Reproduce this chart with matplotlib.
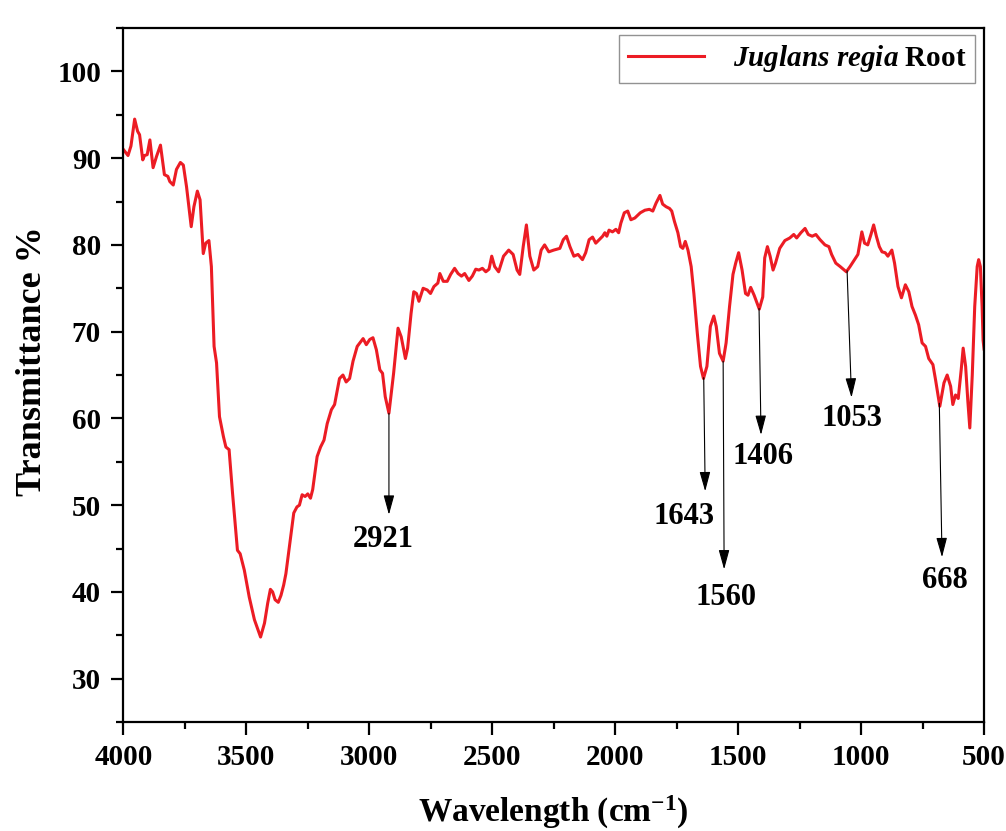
import numpy as np
import matplotlib
matplotlib.use("Agg")
import matplotlib.pyplot as plt
from matplotlib.ticker import MultipleLocator

# FTIR spectrum (wavenumber cm-1, transmittance %)
wavenumber = [
    4000, 3981, 3969, 3954, 3942, 3934, 3921, 3914, 3903, 3892, 3879, 3865, 3849,
    3833, 3819, 3811, 3797, 3784, 3768, 3756, 3743, 3724, 3713, 3699, 3688, 3675,
    3665, 3652, 3642, 3631, 3621, 3609, 3593, 3583, 3570, 3556, 3536, 3525, 3508,
    3488, 3467, 3442, 3426, 3413, 3402, 3393, 3383, 3370, 3359, 3348, 3339, 3325,
    3307, 3294, 3284, 3273, 3261, 3250, 3239, 3230, 3212, 3198, 3184, 3171, 3154,
    3141, 3121, 3107, 3094, 3080, 3066, 3049, 3025, 3012, 2998, 2985, 2971, 2957,
    2946, 2935, 2920, 2901, 2883, 2870, 2853, 2844, 2830, 2819, 2808, 2798, 2781,
    2764, 2751, 2737, 2721, 2713, 2699, 2683, 2669, 2653, 2639, 2625, 2612, 2595,
    2581, 2567, 2554, 2540, 2526, 2513, 2502, 2490, 2474, 2454, 2433, 2415, 2399,
    2388, 2374, 2361, 2347, 2331, 2315, 2301, 2287, 2270, 2250, 2225, 2211, 2198,
    2184, 2168, 2151, 2133, 2120, 2106, 2092, 2079, 2065, 2051, 2042, 2034, 2025,
    2011, 1997, 1986, 1977, 1963, 1949, 1936, 1920, 1898, 1879, 1861, 1847, 1834,
    1818, 1807, 1793, 1779, 1770, 1759, 1745, 1734, 1725, 1715, 1704, 1691, 1680,
    1666, 1653, 1641, 1627, 1613, 1599, 1589, 1576, 1561, 1549, 1535, 1521, 1510,
    1498, 1484, 1470, 1460, 1449, 1435, 1414, 1400, 1392, 1381, 1370, 1358, 1348,
    1331, 1310, 1290, 1274, 1262, 1245, 1228, 1215, 1199, 1184, 1167, 1147, 1131,
    1120, 1103, 1085, 1060, 1045, 1027, 1013, 997, 986, 973, 960, 949, 938, 926,
    915, 902, 891, 875, 864, 850, 836, 820, 806, 793, 779, 766, 752, 738, 725,
    708, 697, 680, 663, 650, 636, 627, 616, 605, 593, 585, 575, 566, 558, 548,
    538, 528, 522, 515, 508, 504, 500,
]
transmittance = [
    91.0, 90.3, 91.4, 94.5, 93.1, 92.7, 89.8, 90.3, 90.4, 92.1, 88.9, 90.2, 91.5,
    88.1, 87.9, 87.3, 86.9, 88.7, 89.5, 89.2, 86.7, 82.1, 84.4, 86.2, 85.2, 79.0,
    80.2, 80.5, 77.5, 68.3, 66.4, 60.2, 57.9, 56.7, 56.4, 51.4, 44.8, 44.4, 42.5,
    39.4, 36.8, 34.8, 36.4, 38.7, 40.3, 40.0, 39.1, 38.8, 39.6, 40.8, 42.1, 45.2,
    49.1, 49.8, 50.0, 51.2, 51.0, 51.3, 50.8, 51.8, 55.6, 56.7, 57.5, 59.4, 61.0,
    61.6, 64.6, 65.0, 64.2, 64.6, 66.6, 68.3, 69.2, 68.5, 69.1, 69.3, 67.9, 65.6,
    65.2, 62.5, 60.6, 65.2, 70.4, 69.4, 66.9, 68.1, 72.1, 74.6, 74.4, 73.5, 75.0,
    74.8, 74.4, 75.2, 75.6, 76.7, 75.8, 75.8, 76.6, 77.3, 76.7, 76.4, 76.7, 75.9,
    76.4, 77.2, 77.1, 77.3, 76.9, 77.2, 78.7, 77.5, 76.9, 78.7, 79.4, 78.9, 77.1,
    76.6, 79.8, 82.3, 78.7, 77.1, 77.5, 79.4, 80.0, 79.2, 79.4, 79.6, 80.6, 81.0,
    79.8, 78.7, 78.9, 78.3, 79.1, 80.6, 80.9, 80.2, 80.6, 81.0, 81.4, 81.0, 81.7,
    81.5, 81.8, 81.4, 82.5, 83.7, 83.9, 82.9, 83.1, 83.7, 84.0, 84.1, 83.9, 84.8,
    85.7, 84.7, 84.4, 84.2, 83.9, 82.7, 81.4, 79.8, 79.6, 80.4, 79.4, 77.5, 74.4,
    69.8, 66.0, 64.6, 66.0, 70.6, 71.8, 70.6, 67.5, 66.6, 68.7, 72.9, 76.6, 77.9,
    79.1, 77.1, 74.4, 74.2, 75.1, 74.2, 72.6, 74.0, 78.5, 79.8, 78.7, 77.1, 77.9,
    79.6, 80.5, 80.8, 81.2, 80.8, 81.4, 81.9, 81.2, 81.0, 81.2, 80.6, 80.0, 79.8,
    78.9, 77.9, 77.5, 76.9, 77.5, 78.3, 78.9, 81.5, 80.2, 80.0, 81.2, 82.3, 81.0,
    79.8, 79.2, 79.1, 78.7, 79.4, 77.9, 75.2, 73.9, 75.4, 74.6, 72.9, 71.9, 70.8,
    68.7, 68.3, 66.9, 66.2, 64.4, 61.4, 64.1, 65.0, 63.7, 61.6, 62.7, 62.3, 65.6,
    68.1, 66.0, 62.0, 58.9, 65.0, 72.9, 77.5, 78.3, 77.5, 72.9, 69.0, 68.0,
]

# peak labels: text, x where the arrow leaves the curve, x and y of arrow tip
peak_labels = ["2921", "1643", "1560", "1406", "1053", "668"]
peak_x = [2920, 1640, 1561, 1415, 1057, 682]
tip_x = [2920, 1634, 1557, 1407, 1039, 671]
tip_y = [48.9, 51.6, 42.6, 58.1, 62.4, 44.0]
label_xy = [(2943, 46.0), (1721, 48.7), (1548, 39.3), (1398, 55.6),
            (1036, 60.0), (661, 41.3)]

plt.rcParams["font.family"] = ["Liberation Serif", "DejaVu Serif"]
plt.rcParams["font.weight"] = "bold"
plt.rcParams["mathtext.fontset"] = "custom"
plt.rcParams["mathtext.rm"] = "Liberation Serif:bold"
plt.rcParams["mathtext.it"] = "Liberation Serif:bold:italic"
plt.rcParams["mathtext.bf"] = "Liberation Serif:bold"

fig = plt.figure(figsize=(10.06, 8.31), dpi=100)
ax = fig.add_axes([0.1226, 0.1311, 0.8556, 0.8352])

ax.plot(wavenumber, transmittance, color="#ec1c24", lw=2.2,
        label=r"$Juglans\ regia$ Root")

curve_x = np.array(wavenumber[::-1], dtype=float)
curve_y = np.array(transmittance[::-1], dtype=float)
for lab, x0, x1, y1, (lx, ly) in zip(peak_labels, peak_x, tip_x, tip_y, label_xy):
    y0 = np.interp(x0, curve_x, curve_y)
    ax.annotate("", xy=(x1, y1), xytext=(x0, y0),
                arrowprops=dict(arrowstyle="-|>,head_length=1.2,head_width=0.33",
                                lw=0.8, color="black", shrinkA=0, shrinkB=0,
                                mutation_scale=10))
    ax.text(lx, ly, lab, fontsize=22, fontweight="bold", ha="center", va="center")

ax.set_xlim(4000, 500)
ax.set_ylim(25, 105)
ax.xaxis.set_major_locator(MultipleLocator(500))
ax.xaxis.set_minor_locator(MultipleLocator(250))
ax.set_yticks(range(30, 101, 10))
ax.yaxis.set_minor_locator(MultipleLocator(5))

for s in ax.spines.values():
    s.set_linewidth(1.6)
ax.tick_params(which="major", direction="out", length=9, width=1.6,
               labelsize=21, pad=7)
ax.tick_params(which="minor", direction="out", length=5, width=1.6)
for t in ax.get_xticklabels() + ax.get_yticklabels():
    t.set_fontweight("bold")

ax.set_xlabel(r"Wavelength (cm$^{-1}$)", fontsize=24, fontweight="bold")
ax.set_ylabel("Transmittance %", fontsize=26, fontweight="bold")
ax.xaxis.label.set_va("center")
ax.yaxis.label.set_va("center")
ax.xaxis.set_label_coords(0.5, -0.13)
ax.yaxis.set_label_coords(-0.106, 0.52)

leg = ax.legend(loc="upper right", bbox_to_anchor=(0.9895, 0.9905),
                borderaxespad=0, fontsize=21, frameon=True, fancybox=False,
                handlelength=2.6, handletextpad=1.0, borderpad=0.3)
leg.get_frame().set_edgecolor("#777777")
leg.get_frame().set_linewidth(1.0)

fig.savefig("out.png", dpi=100)
